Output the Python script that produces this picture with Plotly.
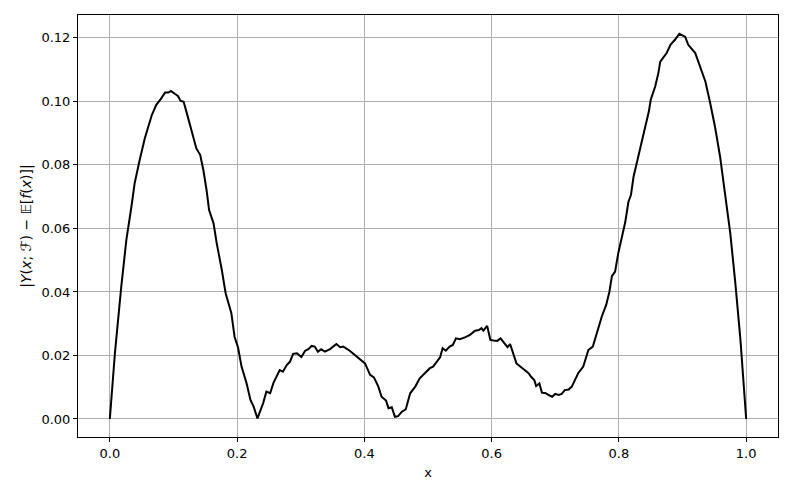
import plotly.graph_objects as go

# curve
x_vals = [
    0.0, 0.008, 0.018, 0.026, 0.034, 0.039, 0.047, 0.055, 0.066, 0.073,
    0.080, 0.087, 0.092, 0.096, 0.102, 0.107, 0.111, 0.116, 0.121, 0.128,
    0.136, 0.142, 0.147, 0.152, 0.156, 0.163, 0.168, 0.176, 0.182, 0.191,
    0.196, 0.2015, 0.207, 0.215, 0.221, 0.226, 0.232, 0.241, 0.246, 0.252,
    0.257, 0.267, 0.272, 0.278, 0.283, 0.288, 0.294, 0.301, 0.307, 0.312,
    0.317, 0.322, 0.327, 0.332, 0.338, 0.346, 0.356, 0.362, 0.367, 0.377,
    0.385, 0.393, 0.401, 0.409, 0.415, 0.422, 0.427, 0.434, 0.438, 0.443,
    0.448, 0.453, 0.459, 0.465, 0.472, 0.480, 0.487, 0.495, 0.503, 0.508,
    0.515, 0.519, 0.523, 0.528, 0.534, 0.539, 0.544, 0.550, 0.558, 0.566,
    0.574, 0.580, 0.584, 0.587, 0.593, 0.598, 0.603, 0.609, 0.614, 0.620,
    0.625, 0.629, 0.634, 0.639, 0.645, 0.653, 0.658, 0.662, 0.667, 0.670,
    0.675, 0.679, 0.685, 0.689, 0.695, 0.700, 0.705, 0.710, 0.715, 0.721,
    0.726, 0.731, 0.736, 0.744, 0.752, 0.759, 0.765, 0.773, 0.780, 0.785,
    0.789, 0.794, 0.799, 0.805, 0.810, 0.815, 0.819, 0.823, 0.831, 0.839,
    0.847, 0.850, 0.857, 0.862, 0.865, 0.875, 0.881, 0.888, 0.895, 0.904,
    0.909, 0.920, 0.928, 0.936, 0.943, 0.951, 0.959, 0.967, 0.975, 0.983,
    0.991, 1.0,
]
y_vals = [
    0.0, 0.0207, 0.0417, 0.0564, 0.0669, 0.0742, 0.0816, 0.0884, 0.0957, 0.0989,
    0.1007, 0.1028, 0.1028, 0.1033, 0.1024, 0.1017, 0.1002, 0.0999, 0.0963, 0.0915,
    0.0852, 0.0832, 0.0784, 0.0721, 0.0658, 0.0616, 0.0553, 0.0469, 0.0396, 0.0333,
    0.0259, 0.0225, 0.0165, 0.0112, 0.0060, 0.0039, 0.0002, 0.0050, 0.0086, 0.0081,
    0.0113, 0.0154, 0.0149, 0.0170, 0.0180, 0.0205, 0.0207, 0.0195, 0.0215, 0.0220,
    0.0230, 0.0228, 0.0212, 0.0220, 0.0212, 0.0220, 0.0236, 0.0226, 0.0228, 0.0215,
    0.0202, 0.0188, 0.0175, 0.0139, 0.0131, 0.0102, 0.0070, 0.0058, 0.0034, 0.0037,
    0.0007, 0.0009, 0.0023, 0.0030, 0.0081, 0.0102, 0.0128, 0.0144, 0.0160, 0.0165,
    0.0186, 0.0194, 0.0223, 0.0215, 0.0228, 0.0233, 0.0254, 0.0251, 0.0257, 0.0265,
    0.0278, 0.0280, 0.0286, 0.0278, 0.0293, 0.0249, 0.0247, 0.0246, 0.0254, 0.0238,
    0.0226, 0.0236, 0.0202, 0.0175, 0.0165, 0.0152, 0.0144, 0.0133, 0.0123, 0.0104,
    0.0112, 0.0083, 0.0081, 0.0076, 0.0070, 0.0079, 0.0076, 0.0079, 0.0091, 0.0093,
    0.0102, 0.0123, 0.0144, 0.0165, 0.0217, 0.0228, 0.0270, 0.0322, 0.0359, 0.0400,
    0.0450, 0.0464, 0.0522, 0.0574, 0.0620, 0.0684, 0.0706, 0.0763, 0.0832, 0.0900,
    0.0968, 0.1005, 0.1047, 0.1089, 0.1125, 0.1152, 0.1178, 0.1194, 0.1213, 0.1204,
    0.1178, 0.1152, 0.1110, 0.1062, 0.0999, 0.0920, 0.0826, 0.0711, 0.0585, 0.0427,
    0.0249, 0.0,
]

x_ticks = [0.0, 0.2, 0.4, 0.6, 0.8, 1.0]
x_tick_labels = ["0.0", "0.2", "0.4", "0.6", "0.8", "1.0"]
y_ticks = [0.0, 0.02, 0.04, 0.06, 0.08, 0.10, 0.12]
y_tick_labels = ["0.00", "0.02", "0.04", "0.06", "0.08", "0.10", "0.12"]

fig = go.Figure()
fig.add_trace(go.Scatter(x=x_vals, y=y_vals, mode="lines",
                         line=dict(color="black", width=2), showlegend=False))

axis_style = dict(showline=True, linecolor="black", linewidth=1, mirror=True,
                  ticks="outside", ticklen=4, tickcolor="black",
                  showgrid=True, gridcolor="#b0b0b0", gridwidth=1,
                  zeroline=False, tickfont=dict(size=13, color="black"))

# page body adds an 8px margin, so the margins are trimmed to match
fig.update_layout(
    width=793, height=496,
    margin=dict(l=70, r=23, t=7, b=67),
    plot_bgcolor="white", paper_bgcolor="white",
    font=dict(family="DejaVu Sans", color="black"),
    xaxis=dict(range=[-0.05, 1.05], tickvals=x_ticks, ticktext=x_tick_labels,
               title=dict(text="x", font=dict(size=13), standoff=8), **axis_style),
    yaxis=dict(range=[-0.00567, 0.1272], tickvals=y_ticks, ticktext=y_tick_labels,
               title=dict(text="|<i>Y</i>(<i>x</i>; ℱ) − 𝔼[<i>f</i>(<i>x</i>)]|",
                          font=dict(size=14), standoff=6), **axis_style),
)

fig.write_html("out.html")
